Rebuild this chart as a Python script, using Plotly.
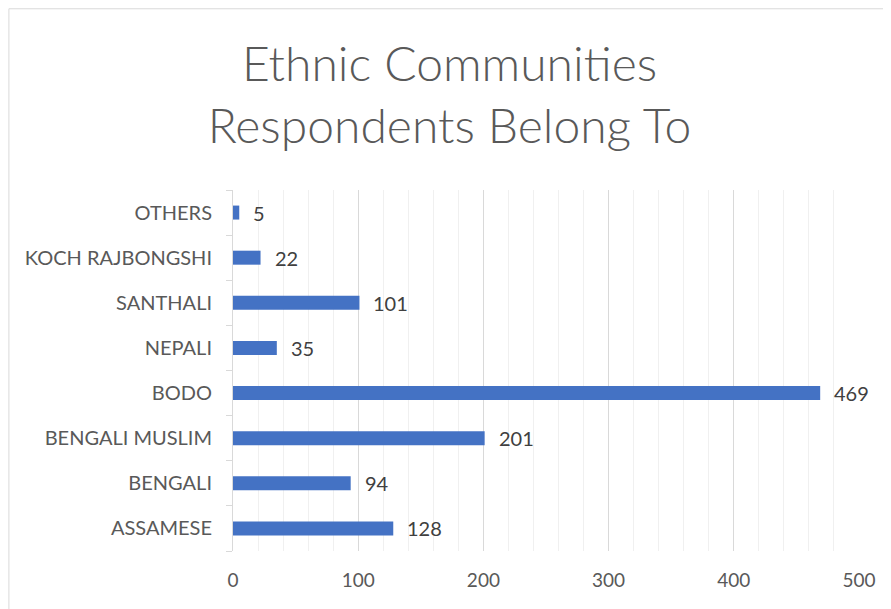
import plotly.graph_objects as go

categories = ["ASSAMESE", "BENGALI", "BENGALI MUSLIM", "BODO", "NEPALI", "SANTHALI", "KOCH RAJBONGSHI", "OTHERS"]
values = [128, 94, 201, 469, 35, 101, 22, 5]
x_ticks = [0, 100, 200, 300, 400, 500]

FONT = "Lato"
BAR = "#4472C4"

# page body has an 8px default margin, so the figure is offset by 8px
W, H = 883, 601

fig = go.Figure()
fig.add_trace(go.Bar(
    x=values, y=categories, orientation="h",
    marker=dict(color=BAR, line=dict(width=0)),
    hoverinfo="x+y",
))

for c, v in zip(categories, values):
    fig.add_annotation(x=v, y=c, text=str(v), showarrow=False, xanchor="left",
                       xshift=12, font=dict(family=FONT, size=20, color="#404040"))

fig.update_layout(
    width=W, height=H,
    margin=dict(l=225, r=32, t=182, b=58),
    paper_bgcolor="white", plot_bgcolor="white",
    bargap=0.69,
    showlegend=False,
    title=dict(text="Ethnic Communities<br>Respondents Belong To", x=0.5, xanchor="center",
               y=0.879, yanchor="middle", yref="container",
               font=dict(family=FONT, size=48, color="#595959", weight=300)),
    xaxis=dict(range=[0, 500], tickvals=x_ticks, showgrid=True, gridcolor="#d9d9d9", gridwidth=1,
               minor=dict(dtick=20, showgrid=True, gridcolor="#f0f0f0", gridwidth=1),
               zeroline=False, showline=False, ticks="",
               tickfont=dict(family=FONT, size=19, color="#595959"), ticklabelstandoff=16),
    yaxis=dict(showline=True, linecolor="#d9d9d9", linewidth=1, ticks="outside", tickson="boundaries",
               ticklen=6, tickcolor="#d9d9d9", showgrid=False,
               tickfont=dict(family=FONT, size=20, color="#595959"), ticklabelstandoff=16),
    shapes=[dict(type="rect", xref="paper", yref="paper", x0=-0.358, x1=1.2, y0=-0.3, y1=1.502,
                 line=dict(color="#d9d9d9", width=1), fillcolor="rgba(0,0,0,0)", layer="below")],
)

fig.write_html("out.html")
